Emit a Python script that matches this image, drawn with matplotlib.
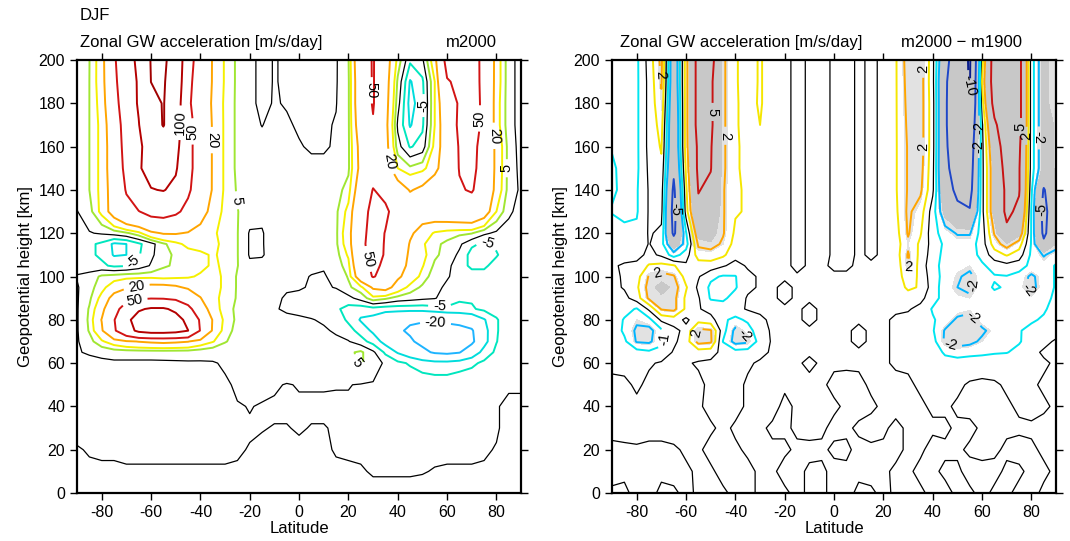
import numpy as np
import matplotlib
matplotlib.use("Agg")
import matplotlib.pyplot as plt

plt.rcParams["font.family"] = ["Liberation Sans", "DejaVu Sans"]
plt.rcParams["axes.unicode_minus"] = False

# grid: latitude (deg) and geopotential height (km, top row first)
lats = [-90, -85, -80, -75, -70, -65, -60, -55, -50, -45, -40, -35, -30, -25, -20, -15, -10, -5, 0,
        5, 10, 15, 20, 25, 30, 35, 40, 45, 50, 55, 60, 65, 70, 75, 80, 85, 90]
heights = [200, 190, 180, 170, 160, 150, 140, 130, 120, 115, 110, 105, 100, 95, 90, 85, 80, 75, 70,
           65, 60, 50, 40, 30, 20, 10, 0]

# zonal GW acceleration, m2000 run [m/s/day]
gw_m2000 = [
    [2.5, 4.9, 14, 45, 80, 110, 205, 220, 146, 62, 36, 19, 9, 4, 1, -1, 0.2, -0.5, -1, -1, -1, -0.5, 4.5, 35, 52, 27, 8, -4, -1, 15, 60, 52, 58, 45, 14, 2, -2],
    [2.5, 5, 14, 42, 75, 105, 201, 210, 140, 58, 34, 19, 9, 4, 1, -1, 0.2, -0.5, -1, -1, -0.8, -0.4, 4, 33, 52, 26, 4, -10.5, -6, 10, 48, 55, 60, 44, 14, 2, -2],
    [2.5, 5, 13, 38, 70, 105, 170, 205, 130, 55, 33, 18, 8.5, 4, 1, -1, 0.3, -0.3, -1, -1, -0.5, -0.2, 4, 33, 52, 25, 2, -12, -7, 10, 35, 53, 60, 45, 13, 2, -2],
    [2, 5, 12, 32, 65, 98, 150, 205, 125, 62, 33, 19, 8.5, 4, 1, -0.1, 1, 0.5, -0.5, -0.8, -0.6, 0.3, 4, 30, 48, 24, -1, -10.5, -6, 10, 32, 55, 60, 45, 13, 2, -2],
    [2, 5, 12, 30, 62, 90, 125, 140, 115, 60, 33, 19, 8.5, 4, 1.5, 1, 1.5, 1, 0.3, -0.5, -0.5, 0.5, 4, 25, 40, 25, 2, -5.5, -3, 12, 30, 52, 58, 40, 16, 3, -2],
    [2, 5, 12, 30, 58, 95, 118, 120, 105, 60, 33, 19, 8.5, 4, 2, 2, 2, 2, 1.5, 1, 1, 2, 4, 24, 38, 28, 10, 6, 8, 15, 32, 51, 56, 40, 16, 3, -1.5],
    [2, 5, 12, 28, 52, 80, 98, 102, 90, 55, 32, 19, 8.5, 4.5, 2, 2, 2, 2, 2, 2, 2, 3, 7, 30, 51, 42, 28, 19, 23, 32, 40, 48, 52, 38, 15, 3, -1],
    [-0.2, 3, 12, 27, 42, 49, 60, 62, 55, 42, 27, 15, 8, 5.2, 2.5, 1, 2, 2, 2, 2, 2, 4, 12, 38, 58, 55, 38, 30, 27, 30, 32, 34, 36, 28, 10, 1, -2],
    [-0.5, -0.3, 0.5, 2, 4, 8, 17, 21, 21, 19, 15, 11, 8, 5.2, -0.5, -0.3, 2, 2, 2, 2, 2, 4, 15, 40, 62, 49, 32, 22, 15, 9, 7, 6, 5.3, 1, -1, -2, -2],
    [-2, -4, -6, -11, -10, -6, -2, 4, 8, 12, 12, 11, 9, 5.2, -0.5, -0.3, 2, 2, 2, 2, 2, 4, 14, 42, 63, 48, 32, 19, 11, 6, 4, 1, -4, -6, -4, -1, -1],
    [-2, -4, -6, -10.5, -10, -5.5, -1, 3, 6, 7, 9, 10.5, 9, 5.2, -0.5, -0.3, 1.5, 1.5, 1.5, 1.5, 1.5, 3, 11, 40, 60, 48, 28, 18, 12, 6, 3, -1, -7, -7, -5.5, -2, -1],
    [-1.5, -3, -4, -6, -5.5, -3, 0.5, 4.5, 5.5, 6, 8, 11, 9, 5.2, 1, 1, 1, 0.8, 0.8, 0.5, 0.3, 2, 8, 36, 56, 45, 24, 18, 10.5, 4, 1.5, -3, -6, -6, -3, -1, -1],
    [0.3, 2, 6, 7, 8, 8, 8, 7, 8, 9, 11, 12, 9, 4.5, 2, 1.5, 1, 0.5, 0.4, -0.1, -0.3, 1, 5.5, 30, 52, 40, 22, 15, 8, 2, 0.5, -2, -3, -3, -1.5, -1, -1],
    [-0.5, 3, 8, 14, 18, 22, 24, 24, 22, 18, 15, 12, 9, 4.5, 2, 1.5, 0.8, 0.3, 0.2, -0.2, -0.5, 0.2, 4, 8, 22, 25, 15, 8, 4, 1.5, -1, -2, -2, -2, -1.5, -1, -1],
    [-0.5, 4, 12, 25, 38, 45, 48, 47, 42, 32, 20.5, 12, 8, 4.5, 2.5, 1, 0.5, -0.3, -0.5, -1, -1.5, -2, -1.5, 2, 8, 6, 3, 2, 1, 0.3, -2, -4.5, -4.5, -3, -2.5, -1.5, -1],
    [-0.5, 5.5, 16, 35, 70, 95, 105, 105, 92, 60, 28, 14, 7, 4, 2.5, 1, 0.3, -0.5, -0.8, -1.5, -2.5, -4, -7, -8, -7, -8, -8, -8, -8, -7, -6, -6, -5.5, -4, -3, -1.5, -1],
    [-0.5, 6, 20.5, 48, 90, 118, 125, 125, 115, 90, 45, 19, 8, 4, 2.5, 1.5, 1, 0.8, 0.5, 0.2, -0.5, -2, -6, -10.5, -12, -15, -17, -19, -19, -19, -18, -17, -15, -10.5, -5.5, -2, -1],
    [-0.5, 5.5, 18, 45, 80, 110, 120, 120, 115, 100.5, 48, 18, 7, 3.5, 2, 1.5, 1.2, 1, 0.8, 0.8, 0.5, -0.5, -3, -7, -11, -15, -19, -21, -23, -24, -24, -23, -21, -12, -5.5, -2, -1],
    [-0.5, 3, 9, 14, 18, 20.5, 22, 23, 22, 20.5, 15, 10.5, 5.5, 2.5, 2, 1.5, 1.5, 1.2, 1.2, 1.2, 1, 0.8, 0.3, -3, -7, -12, -16, -19, -22, -25, -26, -25, -22, -12, -5.2, -2, -1],
    [-0.2, 0.3, 1, 2, 2, 2, 2, 2, 2, 2, 1.5, 1, 0.8, 0.8, 1, 1.2, 1.5, 1.5, 1.5, 1.5, 1.5, 2, 4, 6, 1, -6, -10.5, -14, -18, -21, -22, -20.5, -14, -8, -4, -1.5, -1],
    [-0.5, -0.8, -0.8, -0.8, -0.8, -0.8, -0.8, -0.7, -0.6, -0.5, -0.4, -0.2, 0.3, 0.8, 1, 1.2, 1.5, 1.5, 1.5, 1.5, 1.5, 2, 4, 5.5, 3, -1, -4, -5.5, -7, -8, -8, -7, -6, -4, -2, -1, -0.5],
    [-0.5, -0.5, -0.6, -0.6, -0.6, -0.6, -0.6, -0.6, -0.6, -0.5, -0.5, -0.4, -0.3, 0.3, 0.5, 0.4, 0.2, -0.1, 0.1, 0.1, 0.1, 0.1, 0.1, -0.2, -0.5, -1, -1.5, -2, -2.5, -2.5, -2.5, -2, -1.5, -1, -0.5, -0.2, -0.2],
    [-0.5, -0.5, -0.5, -0.5, -0.5, -0.5, -0.5, -0.5, -0.5, -0.5, -0.5, -0.3, -0.2, -0.1, 0.05, -0.1, -0.2, -0.2, -0.2, -0.2, -0.2, -0.3, -0.3, -0.4, -0.5, -0.6, -0.7, -0.8, -0.8, -0.8, -0.7, -0.6, -0.5, -0.3, -0.1, 0.3, 0.3],
    [-0.4, -0.4, -0.4, -0.4, -0.4, -0.4, -0.4, -0.4, -0.4, -0.4, -0.3, -0.3, -0.3, -0.2, -0.1, -0.05, 0.05, 0.05, -0.1, 0.05, 0.05, -0.1, -0.2, -0.3, -0.3, -0.3, -0.3, -0.3, -0.3, -0.3, -0.3, -0.3, -0.3, -0.2, -0.1, 0.3, 0.3],
    [0.1, -0.1, -0.2, -0.2, -0.2, -0.2, -0.2, -0.2, -0.2, -0.2, -0.2, -0.2, -0.2, -0.1, 0.05, 0.2, 0.3, 0.3, 0.2, 0.2, 0.2, -0.1, -0.2, -0.2, -0.2, -0.2, -0.2, -0.2, -0.2, -0.2, -0.2, -0.2, -0.2, -0.1, 0.05, 0.2, 0.2],
    [0.2, 0.2, 0.2, 0.2, 0.1, 0.1, 0.1, 0.1, 0.1, 0.1, 0.1, 0.1, 0.1, 0.1, 0.2, 0.2, 0.2, 0.2, 0.2, 0.2, 0.2, 0.2, 0.2, 0.1, -0.1, -0.1, -0.1, -0.1, -0.05, 0.05, 0.1, 0.1, 0.1, 0.1, 0.2, 0.2, 0.2],
    [0.3, 0.3, 0.3, 0.3, 0.3, 0.3, 0.3, 0.3, 0.3, 0.3, 0.3, 0.3, 0.3, 0.3, 0.3, 0.3, 0.3, 0.3, 0.3, 0.3, 0.3, 0.3, 0.3, 0.3, 0.3, 0.3, 0.3, 0.3, 0.3, 0.3, 0.3, 0.3, 0.3, 0.3, 0.3, 0.3, 0.3],
]

# difference m2000 - m1900 [m/s/day]
gw_diff = [
    [-1.1, -1.2, -1.2, 0.4, 2.3, -3.5, 1.5, 6, 6, 2.2, 1.1, 0.6, 1.1, 0.5, 0.2, -0.2, 0.1, 0.2, -0.1, -0.2, 0.1, -0.1, 0.1, 0.9, 2.5, 2.6, 0.3, -4, -7, -10.5, 0.5, 6.5, 7, 6, -0.5, -3, -2],
    [-1.1, -1.2, -1.2, 0.3, 2.1, -3.5, 1.5, 6, 5.5, 2.2, 1.1, 0.6, 1.1, 0.5, 0.2, -0.2, 0.1, 0.2, -0.1, -0.2, 0.1, -0.1, 0.1, 0.9, 2.4, 2.5, 0.3, -4.5, -7.5, -10.3, 1, 6.5, 7.5, 6, -0.5, -3, -2],
    [-1.1, -1.3, -1.2, 0.3, 1.8, -3.8, 1.5, 6, 5.5, 2.2, 1.1, 0.7, 1.1, 0.5, 0.2, -0.2, 0.1, 0.2, -0.1, -0.2, 0.1, -0.1, 0.1, 0.9, 2.3, 2.5, 0.4, -4.5, -8, -9.5, 0.5, 6, 7.5, 6, -0.5, -3, -2],
    [-1.1, -1.3, -1.2, 0.3, 1.4, -4, 1.5, 6, 5.5, 2.2, 1.1, 0.7, 1, 0.5, 0.2, -0.2, 0.1, 0.2, -0.1, -0.2, 0.1, -0.1, 0.1, 0.9, 2.2, 2.5, 0.4, -4.5, -8, -8, -0.2, 4.5, 7, 6, -0.5, -3, -2.5],
    [-1.1, -1.2, -1.2, 0.3, 1.1, -4, 1.5, 5.5, 5.2, 2.2, 1.1, 0.8, 0.9, 0.5, 0.2, -0.2, 0.1, 0.2, -0.1, -0.2, 0.1, -0.1, 0.1, 0.9, 2.1, 2.5, 0.4, -4.5, -7, -7, -0.3, 3.5, 6.5, 5.5, -0.5, -3, -2.5],
    [-0.8, -1.4, -1.2, 0.2, 0.8, -4.5, 1.2, 5.5, 5.1, 2.2, 1.1, 0.8, 0.9, 0.5, 0.2, -0.2, 0.1, 0.2, -0.1, -0.2, 0.1, -0.1, 0.1, 0.9, 2.1, 2.4, 0.3, -4.5, -6, -6.5, -0.3, 3, 6, 5.2, -0.5, -3, -2.5],
    [-0.8, -1.3, -1.1, 0.1, 0.5, -5.5, 0.8, 5.1, 4.5, 2.1, 1.1, 0.9, 0.8, 0.5, 0.2, -0.2, 0.1, 0.2, -0.1, -0.2, 0.1, -0.1, 0.1, 0.9, 2.1, 2.2, 0.2, -4, -5.5, -6, -0.3, 3, 5.5, 5.2, -0.8, -5.2, -3],
    [-1.1, -1.2, -1.1, 0.1, 0.3, -6, 0.5, 4.5, 4, 2.1, 1.1, 0.9, 0.6, 0.4, 0.2, -0.2, 0.1, 0.2, -0.1, -0.2, 0.1, -0.1, 0.1, 0.8, 2.2, 1.5, -0.5, -3, -4.5, -4.8, -0.3, 3, 5.5, 4.5, -1.1, -5.8, -3],
    [-0.2, -0.8, -0.8, 0.1, -0.2, -5.5, -1.1, 3, 3, 2.1, 0.8, 0.5, 0.4, 0.3, 0.2, -0.2, 0.1, 0.2, -0.1, -0.2, 0.1, -0.1, 0.1, 0.6, 2.1, 1.1, -0.6, -1.5, -2.1, -2.1, -0.5, 2.1, 4.5, 3, -1.1, -5.5, -3],
    [-0.2, -0.6, -0.6, 0.05, -0.6, -3.5, -1.5, 2.2, 2.5, 1.8, 0.6, 0.3, 0.3, 0.2, 0.2, -0.2, 0.1, 0.2, -0.1, -0.2, 0.1, -0.1, 0.1, 0.5, 1.8, 0.8, -0.4, -1.2, -1.5, -1.5, -0.5, 1.5, 2.5, 1.5, -1.1, -4.5, -2.5],
    [-0.1, -0.3, -0.4, 0.3, -0.2, -1.5, -0.5, 1.5, 1.5, 1.2, 0.3, 0.2, 0.2, 0.1, 0.2, -0.2, 0.1, 0.2, -0.1, -0.2, 0.1, -0.1, 0.1, 0.5, 2.1, 0.7, -0.5, -1.3, -1.5, -1.6, -0.6, 0.5, 1.1, 0.5, -1.2, -2.1, -1.5],
    [-0.1, 0.1, 0.3, 1.1, 1.3, 1.1, 0.2, 0.5, 0.6, 0.1, -0.3, 0.1, 0.1, 0.1, 0.2, -0.2, 0.1, 0.1, -0.1, -0.1, 0.1, 0.1, 0.1, 0.3, 2.1, 0.6, -0.7, -1.3, -1.6, -1.8, -1.2, -0.5, -0.3, -0.5, -1.3, -1.5, -0.9],
    [-0.2, 0.1, 0.6, 2.1, 2.4, 2.1, 0.6, 0.1, -0.8, -1.1, -1.05, -0.2, 0.1, 0.1, 0.1, 0.1, 0.1, 0.1, 0.1, 0.1, 0.1, 0.1, 0.1, 0.5, 1.5, 0.8, -0.6, -1.3, -1.9, -2.2, -1.5, -1.1, -1.05, -1.4, -2.2, -1.5, -0.9],
    [-0.3, 0.1, 0.8, 2.4, 2.8, 2.5, 1.1, -0.2, -1.2, -1.4, -1.1, -0.2, 0.1, 0.1, -0.15, 0.1, 0.1, 0.1, 0.1, 0.1, 0.1, 0.1, 0.1, 0.4, 1.2, 0.9, -0.5, -1.5, -2, -2.3, -1.4, -0.9, -1.1, -1.6, -2.3, -1.5, -0.9],
    [-0.3, -0.3, 0.5, 2.2, 2.5, 2.3, 0.8, 0.1, -1.1, -1.2, -0.6, 0.1, 0.1, 0.1, -0.15, 0.1, 0.1, 0.1, 0.1, 0.1, 0.1, 0.1, 0.1, 0.2, 0.5, 0.3, -0.6, -1.4, -1.7, -1.8, -1.2, -1.3, -1.4, -1.5, -1.7, -1.3, -0.8],
    [-0.3, -0.6, -1.1, 0.2, 2.1, 2.3, 0.8, 0.1, -0.4, -0.5, -0.3, 0.1, 0.1, 0.1, 0.1, 0.1, -0.15, 0.1, 0.1, 0.1, 0.1, 0.1, 0.1, 0.1, 0.1, -0.3, -1.1, -1.6, -1.5, -1.7, -1.3, -1.1, -1.3, -1.4, -1.4, -1.1, -0.7],
    [-0.3, -1.1, -1.8, -1.3, 0.2, 0.5, -0.2, 0.6, 0.4, -0.8, -1.3, -0.8, -0.1, 0.1, 0.1, 0.1, -0.15, 0.1, 0.1, 0.1, 0.1, 0.1, 0.1, -0.1, -0.3, -0.6, -0.9, -1.4, -2.2, -2.4, -1.5, -1.2, -1.5, -1.3, -1.1, -0.9, -0.5],
    [-0.3, -1.2, -2.2, -2.4, -1.2, -0.3, 0.3, 2.3, 2.1, -0.6, -2.3, -1.5, -0.3, 0.1, 0.1, 0.1, 0.1, 0.1, 0.1, 0.1, -0.15, 0.1, 0.1, -0.1, -0.3, -0.5, -0.9, -2.1, -2.3, -2.5, -2.2, -1.6, -1.2, -1.05, -0.8, -0.5, -0.3],
    [-0.3, -0.8, -2.1, -2.2, -1.3, -0.2, 0.5, 2.4, 2.2, -1.05, -2.4, -2.2, -0.5, 0.1, 0.1, 0.1, 0.1, 0.1, 0.1, 0.1, -0.15, 0.1, 0.1, -0.1, -0.2, -0.4, -0.6, -2.2, -2.5, -2.3, -1.8, -1.4, -1.3, -1.1, -0.5, -0.2, 0.1],
    [-0.2, -0.3, -0.6, -0.8, -0.6, 0.1, 0.3, 0.5, 0.4, -0.3, -0.6, -0.5, -0.2, 0.1, 0.1, 0.1, 0.1, 0.1, 0.1, 0.1, 0.1, 0.1, 0.1, -0.1, -0.1, -0.2, -0.3, -1.2, -1.4, -1.3, -1.2, -1.1, -1.05, -0.7, -0.2, 0.1, 0.1],
    [-0.2, -0.3, -0.2, -0.1, 0.1, 0.2, 0.1, -0.1, -0.2, -0.2, -0.1, -0.1, 0.1, 0.1, 0.1, 0.1, -0.15, 0.1, 0.1, 0.1, 0.1, 0.1, 0.1, -0.1, -0.1, -0.2, -0.3, -0.5, -0.6, -0.5, -0.5, -0.4, -0.3, -0.2, -0.1, -0.1, 0.1],
    [0.2, 0.2, -0.15, 0.2, 0.2, 0.2, 0.2, 0.2, -0.2, -0.2, -0.2, 0.1, 0.2, 0.1, 0.1, 0.2, 0.2, 0.1, -0.15, -0.2, -0.15, 0.1, 0.2, 0.2, 0.1, -0.1, -0.2, -0.2, -0.15, 0.1, 0.2, 0.1, -0.1, -0.2, -0.1, 0.1, 0.2],
    [0.2, 0.2, 0.2, 0.2, 0.3, 0.3, 0.2, 0.1, -0.2, -0.2, -0.2, 0.1, 0.2, 0.2, -0.15, 0.1, 0.1, 0.2, 0.1, -0.1, -0.2, -0.1, 0.1, 0.2, 0.2, 0.1, -0.1, -0.1, 0.1, 0.2, 0.2, 0.1, 0.1, -0.1, -0.2, -0.1, 0.1],
    [0.2, 0.2, 0.3, 0.3, 0.3, 0.3, 0.2, 0.2, 0.1, -0.15, 0.1, 0.2, 0.1, -0.1, -0.1, 0.1, 0.2, 0.1, -0.15, -0.1, 0.1, 0.2, 0.1, -0.15, 0.1, 0.2, 0.1, 0.1, -0.1, -0.15, 0.1, 0.2, 0.1, 0.1, 0.1, 0.2, 0.1],
    [-0.15, -0.1, -0.1, -0.2, -0.2, -0.1, 0.1, 0.1, -0.2, -0.2, -0.1, 0.1, 0.1, 0.1, 0.1, -0.1, -0.15, -0.1, 0.1, 0.1, -0.15, -0.1, -0.1, -0.15, 0.1, 0.1, -0.2, -0.1, -0.1, 0.1, 0.1, 0.1, -0.1, -0.2, -0.1, 0.1, 0.1],
    [-0.2, -0.1, -0.2, -0.2, -0.1, -0.2, -0.1, 0.1, 0.1, -0.2, -0.1, -0.15, 0.1, 0.1, -0.2, -0.15, 0.1, 0.1, -0.15, -0.1, -0.1, -0.2, -0.1, 0.1, 0.1, -0.15, -0.1, 0.1, 0.1, -0.2, -0.1, -0.15, 0.1, 0.1, -0.15, -0.1, 0.1],
    [0.1, 0.1, -0.15, -0.15, 0.1, 0.1, -0.15, 0.1, 0.1, 0.1, -0.15, -0.15, 0.1, 0.1, 0.1, -0.15, 0.1, 0.1, -0.15, -0.15, 0.1, 0.1, -0.15, 0.1, 0.1, 0.1, -0.15, -0.15, 0.1, 0.1, -0.15, 0.1, 0.1, -0.15, -0.15, 0.1, 0.1],
]

# contour levels and line colours (zero line drawn separately in black)
lev_m2000 = [-20, -10, -5, 5, 10, 20, 50, 100, 200]
col_m2000 = ["#1eb4ff", "#00dcdc", "#00e6be", "#a0e632",
             "#f5f000", "#ffa500", "#d21414", "#b40000", "#a00000"]
lev_diff = [-10, -5, -2, -1, 1, 2, 5, 10]
col_diff = ["#0a1e8c", "#1e46c8", "#00b4ff", "#00e6f0",
            "#f5e600", "#ffa500", "#c81414", "#960000"]

# where the contour labels sit (lat, km)
lab_m2000 = [(-47, 171), (-42, 167), (-35, 163), (-27, 135), (29.6, 186), (49, 179),
             (73.5, 173), (79.5, 165), (84.5, 150), (37, 153), (-68, 107.6), (-66, 96),
             (-66.5, 88), (26, 107.6), (76, 114), (57, 88), (55, 76), (22, 59)]
lab_diff = [(-71.5, 193), (-48, 176), (-46, 165), (-63.5, 131), (-72, 103), (-70, 71),
            (-56, 74), (-37, 72), (35, 196), (36.5, 160), (54, 188), (58, 169), (59, 160),
            (76, 169), (77.5, 165), (88, 164), (83.5, 131), (30, 104), (55, 96),
            (79.5, 95), (55, 80), (48, 72)]


def fmt(v):
    return f"{v:g}"


def style_axes(ax):
    ax.set_xlim(-90, 90)
    ax.set_ylim(0, 200)
    ax.set_xticks(range(-80, 81, 20))
    ax.set_yticks(range(0, 201, 20))
    ax.tick_params(direction="out", top=True, right=True, length=5, width=1,
                   labelsize=11.5)
    for s in ax.spines.values():
        s.set_linewidth(1.6)
    ax.set_xlabel("Latitude", fontsize=12, labelpad=1)
    ax.set_ylabel("Geopotential height [km]", fontsize=12, labelpad=4)


fig = plt.figure(figsize=(10.7, 5.41), dpi=100)
ax1 = fig.add_axes([0.072, 0.0887, 0.415, 0.8004])
ax2 = fig.add_axes([0.572, 0.0887, 0.415, 0.8004])

z1 = np.array(gw_m2000)
ax1.contour(lats, heights, z1, levels=[0], colors="black", linewidths=0.9)
cs1 = ax1.contour(lats, heights, z1, levels=lev_m2000, colors=col_m2000, linewidths=1.4)
ax1.clabel(cs1, manual=lab_m2000, fmt=fmt, inline=True, fontsize=10.5, colors="black")
style_axes(ax1)

z2 = np.array(gw_diff)
ax2.contourf(lats, heights, np.abs(z2), levels=[1.8, 2.6, 100],
             colors=["#e2e2e2", "#c8c8c8"])
ax2.contour(lats, heights, z2, levels=[0], colors="black", linewidths=0.9)
cs2 = ax2.contour(lats, heights, z2, levels=lev_diff, colors=col_diff, linewidths=1.4)
ax2.clabel(cs2, manual=lab_diff, fmt=fmt, inline=True, fontsize=10.5, colors="black")
style_axes(ax2)

fig.text(0.0748, 0.972, "DJF", fontsize=12, va="center")
fig.text(0.0748, 0.922, "Zonal GW acceleration [m/s/day]", fontsize=12, va="center")
fig.text(0.4645, 0.922, "m2000", fontsize=12, va="center", ha="right")
fig.text(0.5794, 0.922, "Zonal GW acceleration [m/s/day]", fontsize=12, va="center")
fig.text(0.955, 0.922, "m2000 \u2212 m1900", fontsize=12, va="center", ha="right")

fig.savefig("out.png", dpi=100)
